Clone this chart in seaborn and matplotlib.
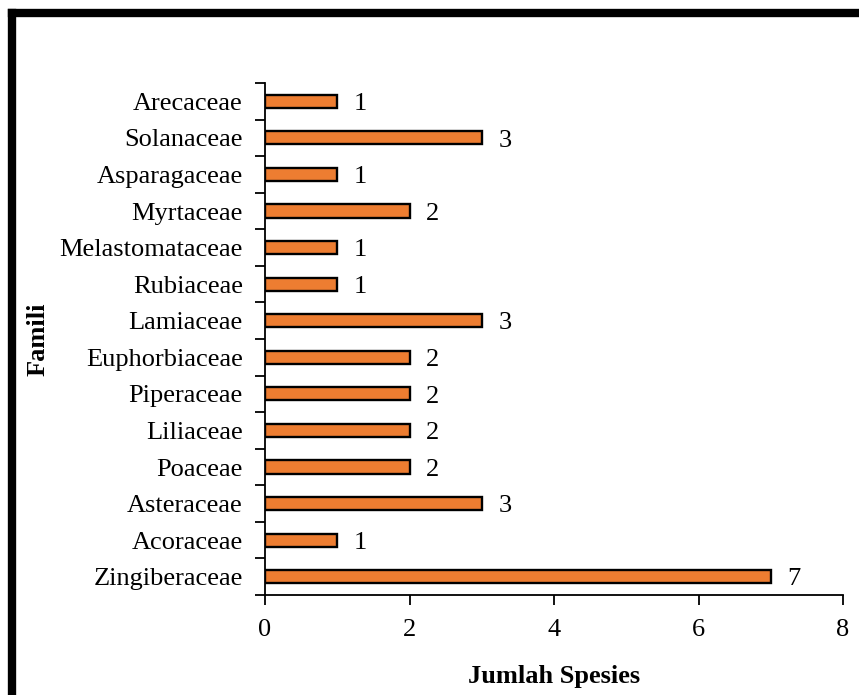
import numpy as np
import matplotlib
matplotlib.use("Agg")
import matplotlib.pyplot as plt
import seaborn as sns
import pandas as pd
from matplotlib.lines import Line2D

families = ["Arecaceae", "Solanaceae", "Asparagaceae", "Myrtaceae", "Melastomataceae",
            "Rubiaceae", "Lamiaceae", "Euphorbiaceae", "Piperaceae", "Liliaceae",
            "Poaceae", "Asteraceae", "Acoraceae", "Zingiberaceae"]
counts = [1, 3, 1, 2, 1, 1, 3, 2, 2, 2, 2, 3, 1, 7]
x_ticks = [0, 2, 4, 6, 8]

sns.set_style("white")
plt.rcParams['font.family'] = ['Liberation Serif', 'DejaVu Serif']
plt.rcParams['text.color'] = 'black'
plt.rcParams['axes.labelcolor'] = 'black'
plt.rcParams['xtick.color'] = 'black'
plt.rcParams['ytick.color'] = 'black'

df = pd.DataFrame({"Famili": families, "Jumlah": counts})

fig = plt.figure(figsize=(8.59, 6.95), dpi=100)
ax = fig.add_axes([265/859, 1-595/695, (843-265)/859, (595-83)/695])

sns.barplot(data=df, y="Famili", x="Jumlah", order=families, orient="h",
            color="#ED7D31", saturation=1, width=0.36, edgecolor="black",
            linewidth=1.7, ax=ax)

FS = 19
ax.set_xlim(0, 8)
ax.set_ylim(len(families) - 0.5, -0.5)
ax.set_xticks(x_ticks)
ax.set_xticklabels([str(t) for t in x_ticks], fontsize=FS)
ax.set_yticks(np.arange(-0.5, len(families), 1))
ax.set_yticklabels([])
ax.set_yticks(np.arange(len(families)), minor=True)
ax.set_yticklabels(families, minor=True, fontsize=FS)
ax.tick_params(axis='y', which='major', direction='out', length=7, width=1.3, color='black', left=True)
ax.tick_params(axis='y', which='minor', length=0, pad=16)
ax.tick_params(axis='x', which='major', direction='out', length=7, width=1.3, color='black', pad=10, bottom=True)

for s in ["top", "right"]:
    ax.spines[s].set_visible(False)
for s in ["left", "bottom"]:
    ax.spines[s].set_color("black")
    ax.spines[s].set_linewidth(1.3)

for i, v in enumerate(counts):
    ax.annotate(str(v), xy=(v, i), xytext=(12, -2), textcoords="offset points",
                va="center", ha="left", fontsize=FS, color="black")

ax.set_xlabel("Jumlah Spesies", fontsize=19, fontweight="bold")
ax.set_ylabel("Famili", fontsize=19, fontweight="bold")
ax.xaxis.set_label_coords(0.5, (595-665)/512)
ax.yaxis.set_label_coords((50-265)/578, 0.5)

# outer frame lines (left and top)
fig.add_artist(Line2D([12/859, 12/859], [0, 1-13/695], transform=fig.transFigure,
                      color="black", linewidth=6, solid_capstyle="projecting"))
fig.add_artist(Line2D([12/859, 1], [1-13/695, 1-13/695], transform=fig.transFigure,
                      color="black", linewidth=6, solid_capstyle="projecting"))

fig.savefig("out.png", dpi=100)
